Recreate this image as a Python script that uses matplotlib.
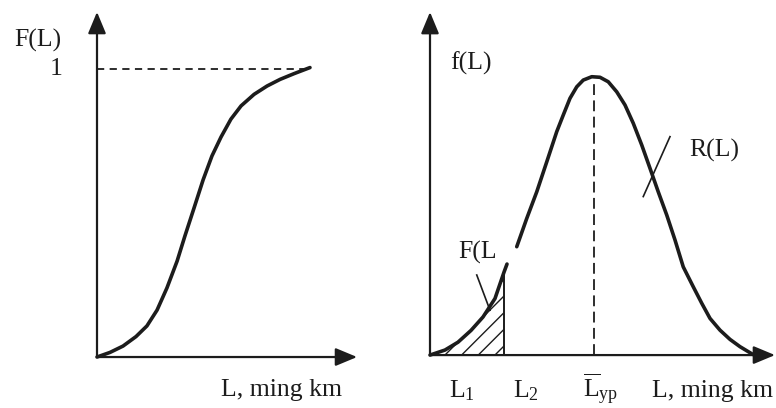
import matplotlib
matplotlib.use("Agg")
import matplotlib.pyplot as plt

# ---------------------------------------------------------------------------
# Data (L in thousand km, arbitrary units)
# ---------------------------------------------------------------------------

# left panel: distribution function F(L)
cdf_L = [0.0, 0.50, 1.00, 1.50, 1.92, 2.31, 2.69, 3.08, 3.38, 3.73,
         4.08, 4.42, 4.77, 5.15, 5.54, 6.04, 6.54, 7.04, 7.58, 8.19]
cdf_F = [0.0, 0.016, 0.038, 0.071, 0.108, 0.163, 0.240, 0.333, 0.420, 0.517,
         0.615, 0.698, 0.764, 0.826, 0.872, 0.912, 0.941, 0.964, 0.984, 1.005]
F_LIMIT = 1.0

# right panel: density f(L), drawn in two pieces (gap in the printed line)
pdf_L_low = [0.0, 0.60, 1.12, 1.64, 2.12, 2.60, 2.96, 3.08]
pdf_f_low = [0.0, 0.018, 0.046, 0.088, 0.136, 0.202, 0.296, 0.325]
pdf_L_high = [3.47, 3.87, 4.27, 4.67, 5.07, 5.33, 5.60, 5.87, 6.13, 6.47,
              6.80, 7.13, 7.47, 7.80, 8.13, 8.47, 8.80, 9.13, 9.47, 9.80,
              10.13, 10.53, 10.87, 11.20, 11.60, 12.00, 12.40, 12.92]
pdf_f_high = [0.387, 0.488, 0.583, 0.690, 0.798, 0.857, 0.917, 0.958, 0.982,
              0.994, 0.992, 0.976, 0.940, 0.893, 0.828, 0.750, 0.667, 0.583,
              0.500, 0.411, 0.315, 0.244, 0.185, 0.131, 0.089, 0.056, 0.030,
              0.002]
L2_INDEX = 6          # hatched area runs from 0 to pdf_L_low[6]
L_MEAN = 6.56
L_MEAN_TOP = 0.971

INK = "#1c1c1c"
FS = 18.5

plt.rcParams["font.family"] = ["Liberation Serif", "DejaVu Serif"]
plt.rcParams["mathtext.fontset"] = "custom"
plt.rcParams["mathtext.rm"] = "Liberation Serif"
plt.rcParams["mathtext.it"] = "Liberation Serif:italic"
plt.rcParams["hatch.linewidth"] = 1.0
plt.rcParams["hatch.color"] = INK

fig = plt.figure(figsize=(7.76, 4.08), dpi=100)
ax1 = fig.add_axes([0, 0, 388 / 776, 1])
ax2 = fig.add_axes([388 / 776, 0, 388 / 776, 1])
for ax in (ax1, ax2):
    ax.set_axis_off()


def draw_arrow(ax, tip, start=(0, 0)):
    ax.annotate("", xy=tip, xytext=start,
                arrowprops=dict(arrowstyle="-|>,head_length=0.6,head_width=0.25",
                                mutation_scale=22, lw=1.6, color=INK,
                                shrinkA=0, shrinkB=0))


# ---------------------------------------------------------------------------
# Left panel
# ---------------------------------------------------------------------------
ax1.set_xlim(-3.73, 11.19)
ax1.set_ylim(-0.177, 1.2396)
draw_arrow(ax1, (0, 1.198))
draw_arrow(ax1, (10.0, 0))
ax1.plot([0, cdf_L[-1]], [F_LIMIT, F_LIMIT], ls=(0, (4, 3)), lw=1.3, color=INK)
ax1.plot(cdf_L, cdf_F, lw=2.6, color=INK, solid_capstyle="round",
         solid_joinstyle="round")
ax1.text(-2.27, 1.10, "F(L)", fontsize=FS, ha="center", va="center", color=INK)
ax1.text(-1.31, F_LIMIT, "1", fontsize=FS, ha="right", va="center", color=INK)
ax1.text(7.1, -0.135, "L, ming km", fontsize=FS, ha="center", va="baseline",
         color=INK)

# ---------------------------------------------------------------------------
# Right panel
# ---------------------------------------------------------------------------
ax2.set_xlim(-1.68, 13.84)
ax2.set_ylim(-0.189, 1.268)
draw_arrow(ax2, (0, 1.225))
draw_arrow(ax2, (13.8, 0))

hatch_L = pdf_L_low[:L2_INDEX + 1]
hatch_f = pdf_f_low[:L2_INDEX + 1]
ax2.fill_between(hatch_L, 0, hatch_f, facecolor="none", edgecolor=INK,
                 hatch="//", linewidth=0)
ax2.vlines(pdf_L_low[L2_INDEX], 0, pdf_f_low[L2_INDEX], color=INK, lw=1.4)
ax2.vlines(L_MEAN, 0, L_MEAN_TOP, color=INK, lw=1.3, linestyles=(0, (6, 3)))
ax2.plot(pdf_L_low, pdf_f_low, lw=2.6, color=INK, solid_capstyle="round",
         solid_joinstyle="round")
ax2.plot(pdf_L_high, pdf_f_high, lw=2.6, color=INK, solid_capstyle="round",
         solid_joinstyle="round")

# pointer strokes for the labels
ax2.plot([9.6, 8.53], [0.78, 0.566], lw=1.2, color=INK)
ax2.plot([1.87, 2.40], [0.286, 0.160], lw=1.2, color=INK)

ax2.text(1.64, 1.043, "f(L)", fontsize=FS, ha="center", va="center", color=INK)
ax2.text(1.12, 0.368, "F(L", fontsize=FS, ha="left", va="center", color=INK)
ax2.text(11.36, 0.732, "R(L)", fontsize=FS, ha="center", va="center", color=INK)
ax2.text(1.28, -0.15, r"L$_{\mathrm{1}}$", fontsize=FS, ha="center",
         va="baseline", color=INK)
ax2.text(3.84, -0.15, r"L$_{\mathrm{2}}$", fontsize=FS, ha="center",
         va="baseline", color=INK)
ax2.text(6.84, -0.15, r"$\overline{\mathrm{L}}_{\mathrm{yp}}$", fontsize=FS,
         ha="center", va="baseline", color=INK)
ax2.text(11.28, -0.15, "L, ming km", fontsize=FS, ha="center", va="baseline",
         color=INK)

fig.savefig("out.png", dpi=100)
